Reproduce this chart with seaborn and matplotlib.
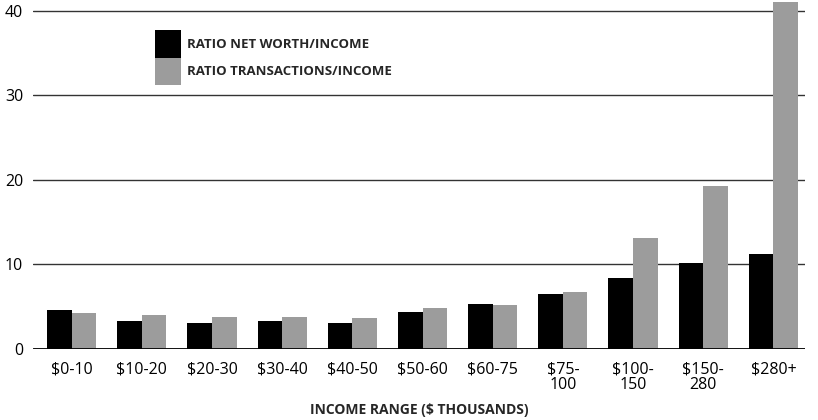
import pandas as pd
import matplotlib.pyplot as plt
from matplotlib.patches import Patch
import seaborn as sns

# 数据
income_ranges = ['$0-10', '$10-20', '$20-30', '$30-40', '$40-50', '$50-60',
                 '$60-75', '$75-\n100', '$100-\n150', '$150-\n280', '$280+']
net_worth_ratio = [4.6, 3.3, 3.1, 3.3, 3.1, 4.4, 5.3, 6.5, 8.4, 10.2, 11.2]
transactions_ratio = [4.3, 4.0, 3.8, 3.8, 3.7, 4.85, 5.2, 6.75, 13.1, 19.3, 41.1]

series_names = ['RATIO NET WORTH/INCOME', 'RATIO TRANSACTIONS/INCOME']
colors = ['#000000', '#9c9c9c']

df = pd.DataFrame({
    'income': income_ranges * 2,
    'ratio': net_worth_ratio + transactions_ratio,
    'series': [series_names[0]] * len(income_ranges) + [series_names[1]] * len(income_ranges),
})

sns.set_style('white')
plt.rcParams['font.family'] = ['Open Sans', 'DejaVu Sans']

fig = plt.figure(figsize=(8.18, 4.2), dpi=100)
ax = fig.add_axes([33 / 818, 71 / 420, 772 / 818, 349 / 420])

sns.barplot(data=df, x='income', y='ratio', hue='series',
            palette=colors, width=0.7, saturation=1,
            linewidth=0, legend=False, ax=ax)

ax.set_xlim(-0.55, 10.45)
ax.set_ylim(0, 41.3)
ax.set_yticks([0, 10, 20, 30, 40])
ax.set_axisbelow(True)
ax.yaxis.grid(True, color='#333333', linewidth=1)
ax.axhline(0, color='#000000', linewidth=2, zorder=3)
for s in ax.spines.values():
    s.set_visible(False)
ax.tick_params(axis='both', length=0, labelsize=11.5, colors='#000000')
ax.tick_params(axis='y', pad=7)
ax.tick_params(axis='x', pad=9)
for t in ax.get_xticklabels():
    t.set_linespacing(0.95)

ax.set_ylabel('')
ax.set_xlabel('INCOME RANGE ($ THOUSANDS)', fontsize=10, fontweight='bold', labelpad=7)

handles = [Patch(facecolor=c, edgecolor='none', linewidth=0) for c in colors]
ax.legend(handles, series_names, loc='upper left',
          bbox_to_anchor=(155 / 818, 1 - 30 / 420), bbox_transform=fig.transFigure,
          frameon=False, borderpad=0, borderaxespad=0, labelspacing=0,
          handlelength=2.0, handleheight=2.85, handletextpad=0.45,
          prop={'size': 9.5, 'weight': 'bold'})

fig.savefig('out.png', dpi=100)
